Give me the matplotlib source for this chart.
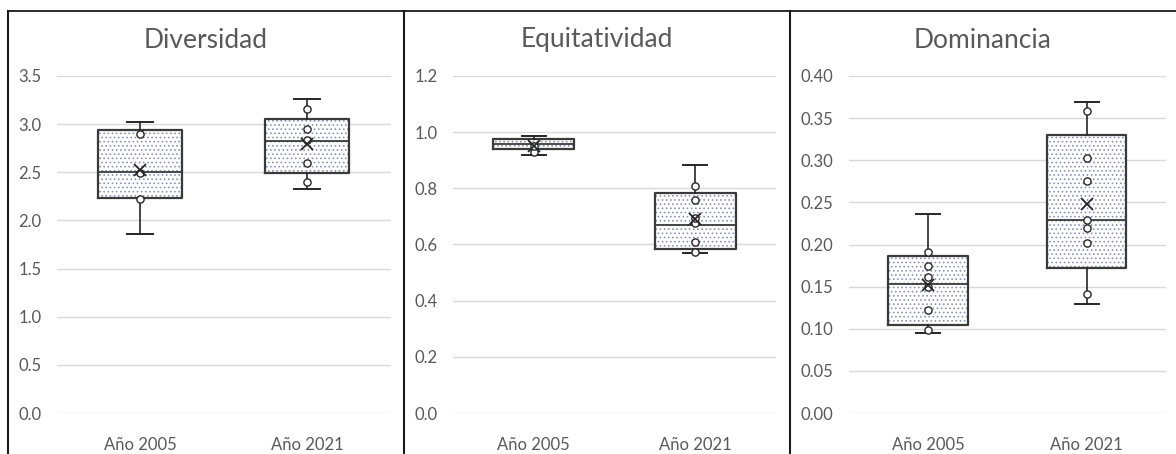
import numpy as np
import matplotlib.pyplot as plt
from matplotlib.lines import Line2D
from matplotlib.ticker import MultipleLocator, FormatStrFormatter

plt.rcParams['font.family'] = ['Lato', 'DejaVu Sans']
plt.rcParams['hatch.linewidth'] = 0.7

# ---------------- datos ----------------
years = ['Año 2005', 'Año 2021']

div_min = [1.86, 2.33]
div_q1 = [2.236, 2.49]
div_med = [2.50, 2.83]
div_q3 = [2.94, 3.056]
div_max = [3.02, 3.26]
div_mean = [2.52, 2.79]
div_pts = [[2.225, 2.489, 2.895], [2.396, 2.593, 2.835, 2.946, 3.157]]

eq_min = [0.918, 0.571]
eq_q1 = [0.940, 0.583]
eq_med = [0.958, 0.671]
eq_q3 = [0.976, 0.782]
eq_max = [0.986, 0.882]
eq_mean = [0.952, 0.690]
eq_pts = [[0.931, 0.952], [0.573, 0.610, 0.675, 0.694, 0.758, 0.807]]

dom_min = [0.095, 0.129]
dom_q1 = [0.1045, 0.1717]
dom_med = [0.1535, 0.2287]
dom_q3 = [0.1867, 0.330]
dom_max = [0.236, 0.369]
dom_mean = [0.152, 0.2477]
dom_pts = [[0.0985, 0.122, 0.149, 0.161, 0.175, 0.191],
           [0.141, 0.2018, 0.220, 0.229, 0.275, 0.3027, 0.358]]

paneles = [
    ('Diversidad', div_min, div_q1, div_med, div_q3, div_max, div_mean, div_pts, 3.5, 0.5, '%.1f'),
    ('Equitatividad', eq_min, eq_q1, eq_med, eq_q3, eq_max, eq_mean, eq_pts, 1.2, 0.2, '%.1f'),
    ('Dominancia', dom_min, dom_q1, dom_med, dom_q3, dom_max, dom_mean, dom_pts, 0.40, 0.05, '%.2f'),
]

# ---------------- figura ----------------
W, H = 1176, 454
fig = plt.figure(figsize=(W / 100, H / 100), dpi=100)

gris_txt = '#595959'
gris_grid = '#d9d9d9'
borde = '#3a3a3a'
punteado = '#8795b5'

# limites en pixeles: (izq, der) de cada area de grafico, y (centro) de cada panel
areas = [(56.5, 390.5), (453, 776), (848.7, 1166)]
centros = [206, 597, 983]
y_top, y_bot = 76, 413

for (titulo, vmin, q1, med, q3, vmax, media, pts, ymax, paso, fmt), (x0, x1), cx in zip(paneles, areas, centros):
    ax = fig.add_axes([x0 / W, (H - y_bot) / H, (x1 - x0) / W, (y_bot - y_top) / H])

    stats = []
    for i in range(len(years)):
        stats.append(dict(label=years[i], whislo=vmin[i], q1=q1[i], med=med[i],
                          q3=q3[i], whishi=vmax[i], mean=media[i], fliers=[]))
    pos = np.arange(1, len(years) + 1)

    # relleno punteado
    ax.bxp(stats, positions=pos, widths=0.5, patch_artist=True, showcaps=False,
           boxprops=dict(facecolor='white', edgecolor=punteado, hatch='....', linewidth=0),
           whiskerprops=dict(linewidth=0), medianprops=dict(linewidth=0),
           manage_ticks=False, zorder=2)
    # lineas de caja, mediana, bigotes
    ax.bxp(stats, positions=pos, widths=0.5, capwidths=0.15,
           boxprops=dict(color=borde, linewidth=1.6),
           medianprops=dict(color=borde, linewidth=1.3),
           whiskerprops=dict(color='#262626', linewidth=1.2),
           capprops=dict(color='#262626', linewidth=1.4),
           manage_ticks=False, zorder=3)

    for i in range(len(years)):
        ax.plot([pos[i]] * len(pts[i]), pts[i], 'o', ms=5.2, mfc='white', mec='#262626',
                mew=1.0, zorder=4)
    ax.plot(pos, media, 'x', ms=9, mec='#262626', mew=1.3, zorder=5)

    ax.set_xlim(0.5, len(years) + 0.5)
    ax.set_ylim(0, ymax)
    ax.yaxis.set_major_locator(MultipleLocator(paso))
    ax.yaxis.set_major_formatter(FormatStrFormatter(fmt))
    ax.set_xticks(pos)
    ax.set_xticklabels(years)
    ax.grid(axis='y', color=gris_grid, linewidth=1.0, zorder=0)
    ax.set_axisbelow(True)
    for s in ax.spines.values():
        s.set_visible(False)
    ax.tick_params(axis='both', length=0, labelsize=12, labelcolor=gris_txt)
    ax.tick_params(axis='y', pad=11)
    ax.tick_params(axis='x', pad=17)

    fig.text(cx / W, 1 - 40 / H, titulo, ha='center', va='center', fontsize=19, color=gris_txt)

# bordes y separadores
yb = 1 - 10.5 / H
fig.add_artist(Line2D([8 / W, 1], [yb, yb], color='#1a1a1a', linewidth=1.3))
for xp in [8, 404, 790]:
    fig.add_artist(Line2D([xp / W, xp / W], [0, yb], color='#1a1a1a', linewidth=1.5))

fig.savefig('out.png', dpi=100)
